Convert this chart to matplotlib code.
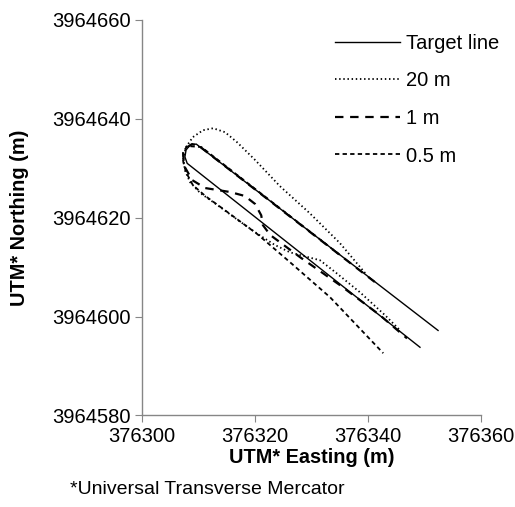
import matplotlib
matplotlib.use("Agg")
import matplotlib.pyplot as plt

# base values for the axes (UTM metres)
E0 = 376300
N0 = 3964600

# target line: upper leg, turn, lower leg (offsets from E0 / N0 + 0)
target_e = [52.4, 9.6, 8.5, 7.8, 7.6, 8.0, 49.2]
target_n = [-2.8, 34.9, 34.7, 33.7, 32.3, 31.0, -6.2]

# 20 m receiver accuracy path
p20_e = [39.5, 35.0, 29.7, 24.4, 20.0, 16.8, 14.7, 12.6, 10.8, 9.0, 7.8, 7.3, 7.6,
         8.5, 10.3, 13.3, 17.0, 20.5, 23.5, 26.2, 28.8, 31.5, 34.2, 38.6, 43.0, 45.7]
p20_n = [8.8, 14.9, 20.9, 26.4, 31.7, 35.3, 37.3, 38.1, 37.7, 36.3, 34.3, 32.1, 29.6,
         27.2, 25.0, 22.6, 19.5, 16.7, 14.5, 13.0, 12.2, 11.4, 9.0, 4.9, 0.3, -2.8]

# 1 m path
p1_e = [41.2, 25.0, 10.0, 8.85, 7.8, 7.3, 7.4, 8.9, 11.2, 15.6, 18.2, 20.0, 21.1,
        21.4, 22.7, 28.0, 35.0, 42.1, 46.9]
p1_n = [7.0, 21.3, 34.6, 34.9, 34.1, 33.1, 30.6, 27.6, 26.0, 25.2, 24.4, 22.8, 20.5,
        18.5, 16.5, 12.0, 6.4, 0.3, -4.4]

# 0.5 m path
p05_e = [35.0, 10.5, 8.0, 7.3, 7.3, 7.8, 9.0, 11.2, 14.7, 20.4, 26.2, 33.3, 42.7]
p05_n = [12.5, 34.3, 34.5, 33.3, 31.3, 29.2, 26.6, 24.4, 21.5, 16.7, 11.0, 3.9, -7.4]

xticks = [376300, 376320, 376340, 376360]
yticks = [3964580, 3964600, 3964620, 3964640, 3964660]

plt.rcParams["font.family"] = ["Liberation Sans", "DejaVu Sans"]
plt.rcParams["font.size"] = 14

fig = plt.figure(figsize=(5.15, 5.07), dpi=100)
ax = fig.add_axes([0.2757, 0.1805, 0.6583, 0.7801])


def shift(vals, base):
    return [base + v for v in vals]


ax.plot(shift(target_e, E0), shift(target_n, N0), color="black", lw=1.0,
        label="Target line")
ax.plot(shift(p20_e, E0), shift(p20_n, N0), color="black", lw=1.3,
        linestyle=(0, (0.8, 1.5)), label="20 m")
ax.plot(shift(p1_e, E0), shift(p1_n, N0), color="black", lw=1.6,
        linestyle=(0, (3.8, 3.0)), label="1 m")
ax.plot(shift(p05_e, E0), shift(p05_n, N0), color="black", lw=1.3,
        linestyle=(0, (2.4, 1.8)), label="0.5 m")

ax.set_xlim(376300, 376360)
ax.set_ylim(3964580, 3964660)
ax.set_xticks(xticks)
ax.set_yticks(yticks)
ax.set_xticklabels([str(t) for t in xticks])
ax.set_yticklabels([str(t) for t in yticks])

for side in ["top", "right"]:
    ax.spines[side].set_visible(False)
for side in ["left", "bottom"]:
    ax.spines[side].set_color("#868686")
    ax.spines[side].set_linewidth(1.0)
ax.tick_params(direction="out", length=5, color="#868686", labelsize=14.5, pad=3)

ax.set_xlabel("UTM* Easting (m)", fontweight="bold", fontsize=14.3, labelpad=2)
ax.set_ylabel("UTM* Northing (m)", fontweight="bold", fontsize=14.3, labelpad=17)

ax.legend(loc="upper right", frameon=False, handlelength=3.25, labelspacing=0.92,
          handletextpad=0.3, borderaxespad=0.0, fontsize=14.5,
          bbox_to_anchor=(1.078, 0.985))

fig.text(0.136, 0.0355, "*Universal Transverse Mercator", fontsize=14, ha="left",
         va="center")

fig.savefig("out.png", dpi=100)
